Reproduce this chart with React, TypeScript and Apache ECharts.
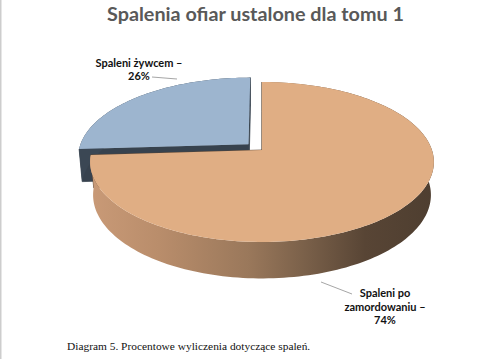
import React, { useEffect, useRef } from "react";
import * as echarts from "echarts";

// ---- data ----
const categories = ["Spaleni po\nzamordowaniu", "Spaleni żywcem"];
const percentValues = [74, 26];
const explodeAmount = [0, 0.11];
const titleText = "Spalenia ofiar ustalone dla tomu 1";
const captionText = "Diagram 5. Procentowe wyliczenia dotyczące spaleń.";

// ---- styles ----
const topColors = ["#E0AE84", "#9DB5CF"];
const sideColors = [
  new echarts.graphic.LinearGradient(0, 0, 1, 0, [
    { offset: 0, color: "#c99a77" },
    { offset: 0.2, color: "#b98d6b" },
    { offset: 0.46, color: "#9a785b" },
    { offset: 0.62, color: "#7b614a" },
    { offset: 0.8, color: "#584535" },
    { offset: 1, color: "#4e3e30" },
  ]),
  "#3B4754",
];
const cutColors = ["#5a4636", "#37424e"];
const labelPos = [
  [385, 306],
  [139, 69],
];
const leaderLines = [
  [321, 282, 352, 294],
  [152, 77, 177, 79],
];

// ---- perspective projection of the pie disc ----
const CX = 262;
const CY = 150;
const SIN_A = 0.46;
const COS_A = Math.sqrt(1 - SIN_A * SIN_A);
const DIST = 5.92;
const FOCAL = 1006;
const DEPTH = 0.22;

function project(u: number, v: number, y: number): number[] {
  const yc = v * SIN_A + y * COS_A;
  const zc = DIST + v * COS_A - y * SIN_A;
  return [CX + (FOCAL * u) / zc, CY - (FOCAL * yc) / zc];
}

export default function App() {
  const ref = useRef<HTMLDivElement>(null);
  useEffect(() => {
    if (!ref.current) return;
    const chart = echarts.init(ref.current, null, { renderer: "svg" });
    const total = percentValues.reduce((a, b) => a + b, 0);

    const renderItem = (params: any, api: any) => {
      const i = params.dataIndex;
      const before = percentValues.slice(0, i).reduce((a, b) => a + b, 0);
      const start = (before / total) * Math.PI * 2;
      const end = start + (api.value(0) / total) * Math.PI * 2;
      const mid = (start + end) / 2;
      const ou = explodeAmount[i] * Math.sin(mid);
      const ov = explodeAmount[i] * Math.cos(mid);
      const pt = (r: number, th: number, y: number) =>
        project(ou + r * Math.sin(th), ov + r * Math.cos(th), y);
      const N = Math.max(8, Math.ceil((end - start) / (Math.PI / 120)));
      const arcTop: number[][] = [];
      const arcBot: number[][] = [];
      for (let k = 0; k <= N; k++) {
        const th = start + ((end - start) * k) / N;
        arcTop.push(pt(1, th, 0));
        arcBot.push(pt(1, th, -DEPTH));
      }
      const base = Math.cos(mid) > 0 ? 0 : 10;
      const top = [pt(0, 0, 0), ...arcTop];
      const side = [...arcTop, ...arcBot.slice().reverse()];
      const cutA = [pt(0, 0, 0), pt(1, start, 0), pt(1, start, -DEPTH), pt(0, 0, -DEPTH)];
      const cutB = [pt(0, 0, 0), pt(1, end, 0), pt(1, end, -DEPTH), pt(0, 0, -DEPTH)];
      const lp = labelPos[i];
      const ll = leaderLines[i];
      return {
        type: "group",
        children: [
          { type: "polygon", z2: base + 1, shape: { points: cutA }, style: { fill: cutColors[i], stroke: cutColors[i], lineWidth: 0.8 } },
          { type: "polygon", z2: base + 1, shape: { points: cutB }, style: { fill: cutColors[i], stroke: cutColors[i], lineWidth: 0.8 } },
          { type: "polygon", z2: base + 2, shape: { points: side }, style: { fill: sideColors[i] } },
          { type: "polygon", z2: base + 3, shape: { points: top }, style: { fill: topColors[i] } },
          {
            type: "line",
            z2: 30,
            shape: { x1: ll[0], y1: ll[1], x2: ll[2], y2: ll[3] },
            style: { stroke: "#a6a6a6", lineWidth: 1 },
          },
          {
            type: "text",
            z2: 30,
            x: lp[0],
            y: lp[1],
            style: {
              text: `${categories[i]} –\n${api.value(0)}%`,
              fill: "#111",
              fontFamily: "Lato",
              fontWeight: "bold",
              fontSize: 11,
              lineHeight: 13.5,
              align: "center",
              verticalAlign: "middle",
            },
          },
        ],
      };
    };

    chart.setOption({
      animation: false,
      backgroundColor: "#ffffff",
      title: [
        {
          text: titleText,
          left: 107,
          top: 3,
          padding: 0,
          textStyle: { fontFamily: "Lato", fontWeight: "bold", fontSize: 19.8, color: "#595959" },
        },
        {
          text: captionText,
          left: 67,
          top: 340,
          padding: 0,
          textStyle: { fontFamily: "Liberation Serif", fontWeight: "normal", fontSize: 11.4, color: "#111" },
        },
      ],
      graphic: [
        { type: "rect", left: 0, top: 0, shape: { width: 1.5, height: 359 }, style: { fill: "#cdcdcd" } },
      ],
      series: [
        {
          type: "custom",
          coordinateSystem: "none",
          renderItem,
          data: percentValues.map((v, i) => ({ name: categories[i], value: [v] })),
        },
      ],
    });
    return () => chart.dispose();
  }, []);
  return (
    <div
      ref={ref}
      style={{ position: "absolute", left: 0, top: 0, width: 500, height: 359, background: "#fff" }}
    />
  );
}
